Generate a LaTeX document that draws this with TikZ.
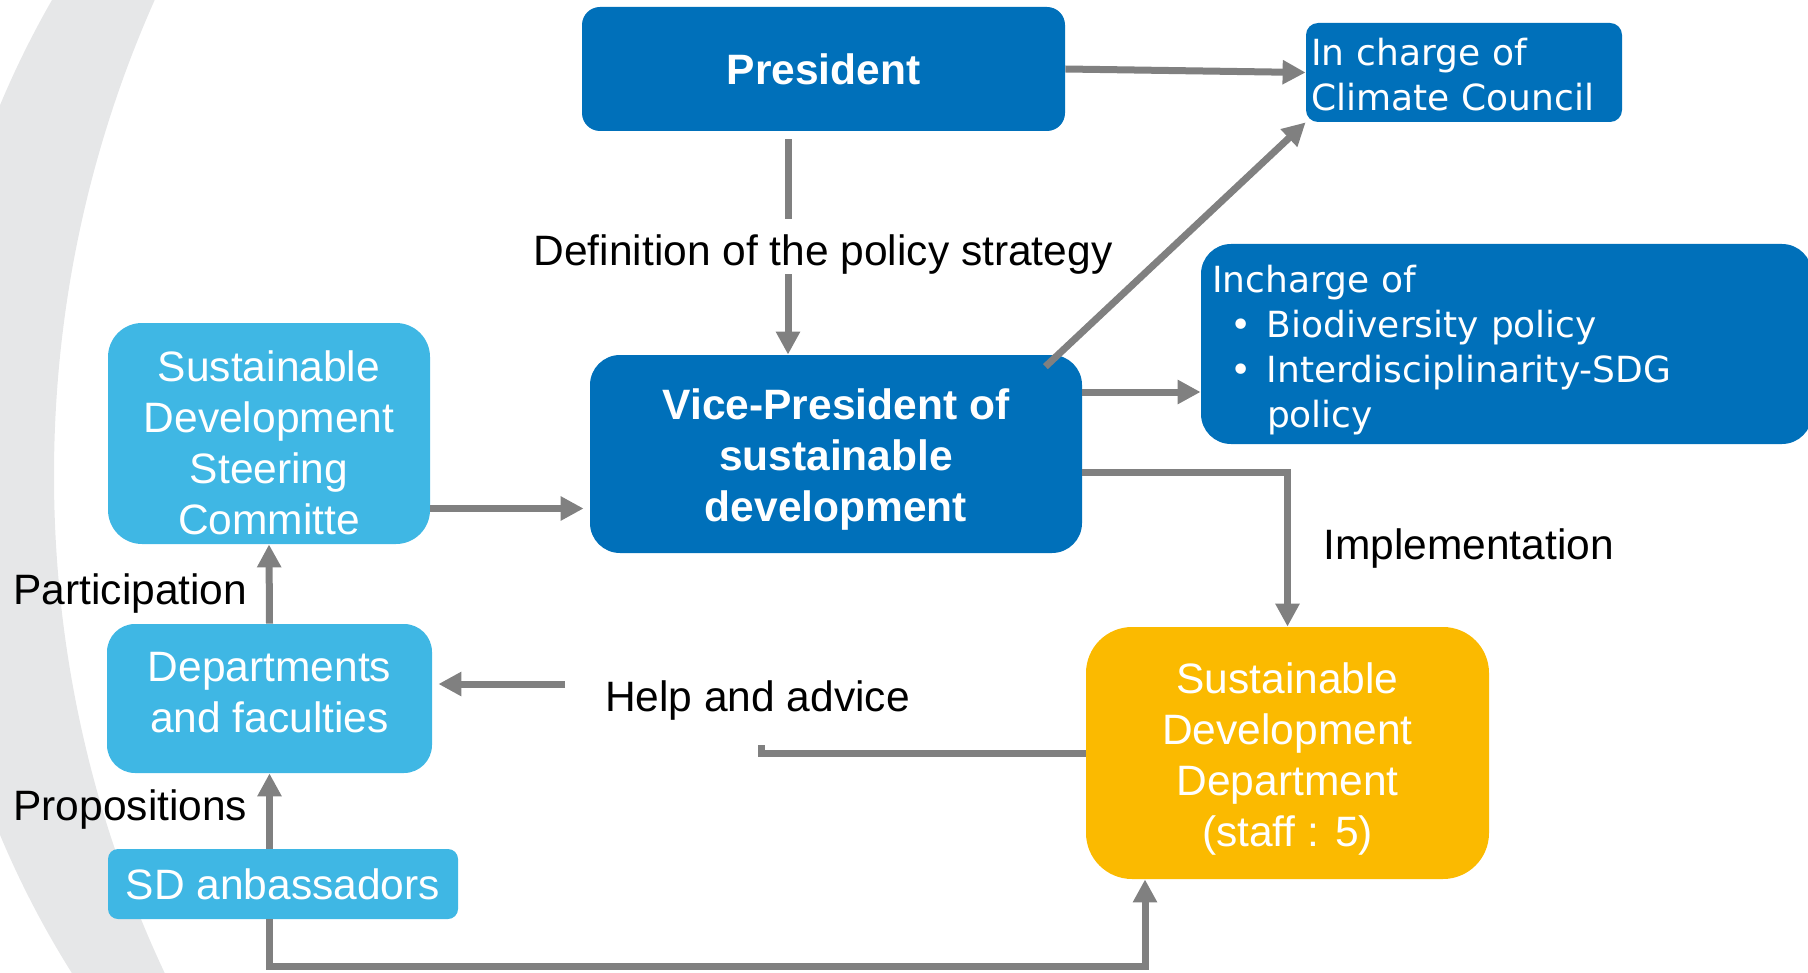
\documentclass[tikz,border=0pt]{standalone}
\usepackage{fontspec}
\setmainfont{Liberation Sans}
\newfontfamily\boxfont{DejaVu Sans}
\usetikzlibrary{arrows.meta}
\definecolor{darkblue}{RGB}{0,112,186}
\definecolor{lightblue}{RGB}{63,183,228}
\definecolor{sdyellow}{RGB}{251,186,0}
\definecolor{arrowgray}{RGB}{128,128,128}
\definecolor{bandgray}{RGB}{230,231,232}
\tikzset{
    box/.style={rounded corners=#1, text=white, align=center, inner sep=0pt},
    box/.default=10pt,
    line/.style={draw=arrowgray, line width=3.5pt},
    arr/.style={line, -{Triangle[length=11.5pt,width=11.5pt]}},
    mainfont/.style={font=\fontsize{21.25}{25.5}\selectfont},
    boldfont/.style={font=\fontsize{21.25}{25.5}\selectfont\bfseries},
    smallfont/.style={font=\boxfont\fontsize{18}{22.5}\selectfont},
    tag/.style={inner sep=0pt}
}
\begin{document}
\begin{tikzpicture}[x=0.5pt,y=-0.5pt,every node/.style={mainfont}]
    \useasboundingbox (0,0) rectangle (1808,973);
    \begin{scope}
        \clip (872,470) circle[radius=472.5pt];
        \fill[bandgray, even odd rule] (-10,-10) rectangle (1818,983) (1224,475.6) circle[radius=585pt];
    \end{scope}

    \node[box=9pt, fill=darkblue, minimum width=241.5pt, minimum height=62pt, boldfont] (pres) at (823.5,69) {President};
    \node[box=6pt, fill=darkblue, minimum width=158pt, minimum height=49.5pt, text width=153pt, align=left, inner xsep=2.5pt, text height=15.7pt, smallfont] (climate) at (1464,72.5) {In charge of\\Climate Council};
    \node[box=15pt, fill=darkblue, minimum width=305.5pt, minimum height=100pt, text width=294.5pt, align=left, inner xsep=5.5pt, text height=19.7pt, smallfont] (incharge) at (1506.5,344) {Incharge of\\\hspace*{9pt}\makebox[18.5pt][l]{\textbullet}Biodiversity policy\\\hspace*{9pt}\makebox[18.5pt][l]{\textbullet}Interdisciplinarity-SDG\\\hspace*{27.5pt}policy};
    \node[box=15pt, fill=darkblue, minimum width=246pt, minimum height=99pt, text height=72.4pt, boldfont] (vp) at (836,454) {Vice-President of\\sustainable\\development};
    \node[box=17pt, fill=lightblue, minimum width=161pt, minimum height=110.5pt, text height=101.2pt] (steer) at (269,433.5) {Sustainable\\Development\\Steering\\Committe};
    \node[box=14pt, fill=lightblue, minimum width=162.5pt, minimum height=74.5pt, text height=34.1pt] (dept) at (269.5,698.5) {Departments\\and faculties};
    \node[box=5pt, fill=lightblue, minimum width=175pt, minimum height=35pt] (amb) at (283,884) {SD anbassadors};
    \node[box=23pt, fill=sdyellow, minimum width=201.5pt, minimum height=126pt, text height=97.8pt] (sdd) at (1287.5,753) {Sustainable\\Development\\Department\\(staff : 5)};

    \node[tag] (def) at (823,254.5) {Definition of the policy strategy};
    \node[tag, anchor=west] (impl) at (1323,549) {Implementation};
    \node[tag] (help) at (757.5,700.5) {Help and advice};
    \node[tag, anchor=west] (part) at (13,594) {Participation};
    \node[tag, anchor=west] (prop) at (13,810) {Propositions};

    \coordinate (defin) at (788,219);
    \coordinate (defout) at (788,274);
    \coordinate (helpend) at (761,745);
    \coordinate (helpstart) at (565,684);
    \coordinate (botline) at (1145,966);

    \draw[line, shorten <=4pt] (pres.south -| defin) -- (defin);
    \draw[arr] (defout) -- (vp.north -| defout);
    \draw[arr] (pres.east) -- (climate.west);
    \draw[arr] ([xshift=-18.5pt,yshift=-6pt]vp.north east) -- (climate.south west);
    \draw[arr] ([yshift=31pt]vp.east) -- ([yshift=31pt]vp.east -| incharge.west);
    \draw[arr] ([yshift=-9pt]vp.east) -| (sdd.north);
    \draw[arr, shorten >=3pt] ([yshift=-37.5pt]steer.east) -- ([yshift=-37.5pt]steer.east -| vp.west);
    \draw[arr] (dept.north) -- (steer.south);
    \draw[arr] (amb.north -| dept.north) -- (dept.south);
    \draw[line] (sdd.west) -| (helpend);
    \draw[arr, shorten >=3pt] (helpstart) -- (helpstart -| dept.east);
    \draw[arr] (amb.south -| steer.south) |- (botline) -- (botline |- sdd.south);
\end{tikzpicture}
\end{document}
